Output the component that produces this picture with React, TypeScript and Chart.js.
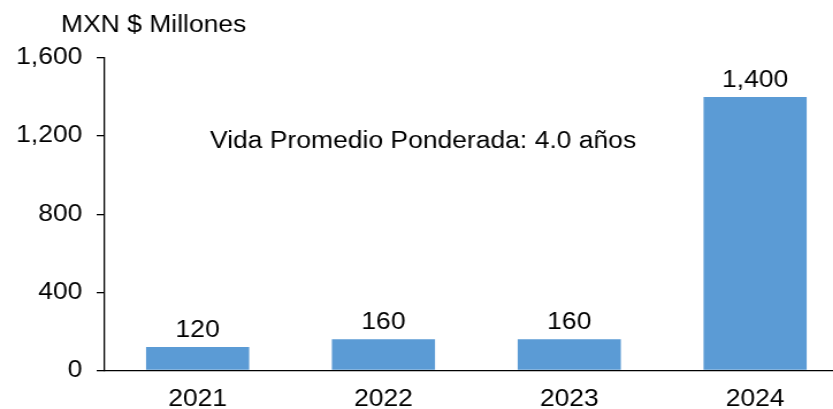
import React, { useEffect, useRef } from "react";
import { Chart, registerables } from "chart.js";

Chart.register(...registerables);

const categories = ["2021", "2022", "2023", "2024"];
const values = [120, 160, 160, 1400];
const yTicks = [0, 400, 800, 1200, 1600];
const unitTitle = "MXN $ Millones";
const noteText = "Vida Promedio Ponderada: 4.0 años";

const FONT = "'Liberation Sans', Arial, Helvetica, sans-serif";
const FONT_SIZE = 23;
const BAR_COLOR = "#5B9BD5";
const STRETCH = 1.15;
const CANVAS_W = 737;
const CANVAS_H = 409;

const fmt = (v: number) => v.toLocaleString("en-US");

const labelsPlugin = {
  id: "customLabels",
  afterDatasetsDraw(chart: any) {
    const ctx = chart.ctx;
    const meta = chart.getDatasetMeta(0);
    ctx.save();
    ctx.font = `${FONT_SIZE}px ${FONT}`;
    ctx.fillStyle = "#000";
    ctx.textAlign = "center";
    ctx.textBaseline = "alphabetic";
    meta.data.forEach((bar: any, i: number) => {
      ctx.fillText(fmt(values[i]), bar.x, bar.y - 10);
    });
    ctx.restore();
  },
  afterDraw(chart: any) {
    const ctx = chart.ctx;
    ctx.save();
    ctx.font = `${FONT_SIZE}px ${FONT}`;
    ctx.fillStyle = "#000";
    ctx.textAlign = "left";
    ctx.textBaseline = "alphabetic";
    ctx.fillText(unitTitle, 53, 32);
    ctx.fillText(noteText, 182.5, 148);
    ctx.restore();
  },
};

export default function App() {
  const ref = useRef<HTMLCanvasElement | null>(null);

  useEffect(() => {
    if (!ref.current) return;
    const chart = new Chart(ref.current, {
      type: "bar",
      data: {
        labels: categories,
        datasets: [
          {
            data: values,
            backgroundColor: BAR_COLOR,
            borderWidth: 0,
            barPercentage: 0.555,
            categoryPercentage: 1,
          },
        ],
      },
      options: {
        responsive: false,
        animation: false,
        devicePixelRatio: 1,
        layout: { padding: { top: 58, left: 0, right: 0, bottom: 0 } },
        plugins: {
          legend: { display: false },
          tooltip: { enabled: false },
          title: { display: false },
        },
        scales: {
          x: {
            type: "category",
            offset: true,
            grid: { display: false, drawTicks: false, drawOnChartArea: false },
            border: { display: true, color: "#000", width: 1.3 },
            ticks: {
              color: "#000",
              font: { family: FONT, size: FONT_SIZE },
              padding: 15,
              maxRotation: 0,
              autoSkip: false,
            },
            afterFit: (scale: any) => {
              scale.height = 38.5;
            },
          },
          y: {
            type: "linear",
            min: 0,
            max: 1600,
            afterBuildTicks: (scale: any) => {
              scale.ticks = yTicks.map((v) => ({ value: v }));
            },
            grid: {
              display: true,
              drawOnChartArea: false,
              drawTicks: true,
              tickLength: 7,
              color: "#000",
              lineWidth: 1.3,
            },
            border: { display: true, color: "#000", width: 1.3 },
            ticks: {
              color: "#000",
              font: { family: FONT, size: FONT_SIZE },
              padding: 12.5,
              callback: (v: any) => fmt(Number(v)),
            },
            afterFit: (scale: any) => {
              scale.width = 91;
            },
          },
        },
      },
      plugins: [labelsPlugin],
    });
    return () => chart.destroy();
  }, []);

  return (
    <div
      style={{
        position: "fixed",
        left: 0,
        top: 0,
        width: 833,
        height: 409,
        overflow: "hidden",
        background: "#fff",
      }}
    >
      <canvas
        ref={ref}
        width={CANVAS_W}
        height={CANVAS_H}
        style={{
          width: `${CANVAS_W * STRETCH}px`,
          height: `${CANVAS_H}px`,
          display: "block",
        }}
      />
    </div>
  );
}
